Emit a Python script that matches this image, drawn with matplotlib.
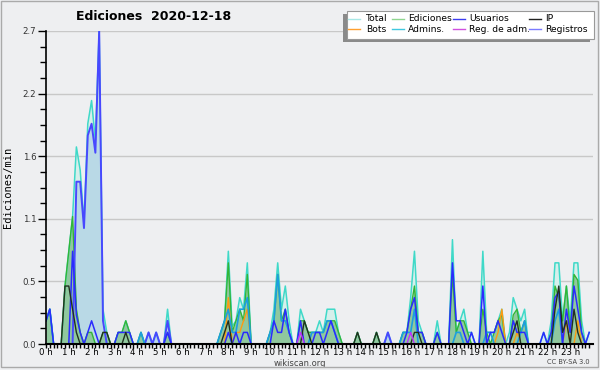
import matplotlib
matplotlib.use("Agg")
import matplotlib.pyplot as plt
import numpy as np
from matplotlib.lines import Line2D
from matplotlib.patches import Rectangle

# Edits per minute, 10-minute bins (6 values per hour, one row per hour)
total = [
    0.2, 0.3, 0, 0, 0, 0.5,
    0.8, 1.1, 1.7, 1.5, 1.05, 1.9,
    2.1, 1.75, 2.7, 0.3, 0.1, 0,
    0, 0.1, 0.1, 0.2, 0.1, 0,
    0, 0.1, 0, 0.1, 0, 0.1,
    0, 0, 0.3, 0, 0, 0,
    0, 0, 0, 0, 0, 0,
    0, 0, 0, 0, 0.1, 0.2,
    0.8, 0.15, 0.2, 0.4, 0.3, 0.7,
    0, 0, 0, 0, 0, 0.1,
    0.3, 0.7, 0.3, 0.5, 0.2, 0,
    0, 0.3, 0.2, 0.1, 0.1, 0.1,
    0.2, 0.1, 0.3, 0.3, 0.3, 0.1,
    0, 0, 0, 0, 0.1, 0,
    0, 0, 0, 0.1, 0, 0,
    0.1, 0, 0, 0, 0.1, 0.1,
    0.4, 0.8, 0.2, 0.1, 0, 0,
    0, 0.2, 0, 0, 0, 0.9,
    0.1, 0.2, 0.3, 0.1, 0.1, 0,
    0, 0.8, 0.1, 0.1, 0.1, 0.2,
    0.3, 0, 0.1, 0.4, 0.3, 0.2,
    0.3, 0, 0, 0, 0, 0.1,
    0, 0.2, 0.7, 0.7, 0.2, 0.5,
    0.2, 0.7, 0.7, 0.2, 0, 0.1,
]
ediciones = [
    0.2, 0.3, 0, 0, 0, 0.5,
    0.8, 1.1, 0.3, 0.1, 0, 0.1,
    0.1, 0, 0, 0.1, 0.1, 0,
    0, 0.1, 0.1, 0.2, 0.1, 0,
    0, 0.1, 0, 0, 0, 0,
    0, 0, 0.1, 0, 0, 0,
    0, 0, 0, 0, 0, 0,
    0, 0, 0, 0, 0.1, 0.2,
    0.7, 0.1, 0.2, 0.3, 0.2, 0.6,
    0, 0, 0, 0, 0, 0.1,
    0.2, 0.6, 0.2, 0.3, 0.1, 0,
    0, 0.2, 0.2, 0.1, 0.1, 0.1,
    0.1, 0.1, 0.2, 0.2, 0.2, 0.1,
    0, 0, 0, 0, 0.1, 0,
    0, 0, 0, 0.1, 0, 0,
    0, 0, 0, 0, 0.1, 0.1,
    0.3, 0.5, 0.1, 0.1, 0, 0,
    0, 0.1, 0, 0, 0, 0.6,
    0.1, 0.2, 0.2, 0.1, 0, 0,
    0, 0.3, 0.1, 0, 0.1, 0.2,
    0.25, 0, 0, 0.25, 0.3, 0.1,
    0.2, 0, 0, 0, 0, 0,
    0, 0.1, 0.5, 0.4, 0.2, 0.5,
    0.1, 0.6, 0.55, 0.1, 0, 0,
]
usuarios = [
    0.2, 0.3, 0, 0, 0, 0,
    0, 0.8, 0.25, 0.1, 0, 0.1,
    0.2, 0.1, 0, 0, 0, 0,
    0, 0.1, 0.1, 0.1, 0.1, 0,
    0, 0, 0, 0, 0, 0,
    0, 0, 0.1, 0, 0, 0,
    0, 0, 0, 0, 0, 0,
    0, 0, 0, 0, 0, 0,
    0.1, 0, 0.1, 0, 0.1, 0.1,
    0, 0, 0, 0, 0, 0,
    0.2, 0.1, 0.1, 0.3, 0.1, 0,
    0, 0.2, 0, 0, 0, 0.1,
    0.1, 0, 0.1, 0.2, 0.1, 0,
    0, 0, 0, 0, 0, 0,
    0, 0, 0, 0, 0, 0,
    0, 0, 0, 0, 0, 0.1,
    0.3, 0.4, 0.1, 0.1, 0, 0,
    0, 0.1, 0, 0, 0, 0.7,
    0.2, 0.2, 0.1, 0, 0.1, 0,
    0, 0.5, 0, 0.1, 0.1, 0.2,
    0.1, 0, 0, 0.2, 0.1, 0.1,
    0.1, 0, 0, 0, 0, 0.1,
    0, 0.1, 0.4, 0.45, 0, 0.3,
    0.1, 0.5, 0.3, 0.1, 0, 0.1,
]
ip = [
    0, 0, 0, 0, 0, 0.5,
    0.5, 0.3, 0.1, 0, 0, 0,
    0, 0, 0, 0.1, 0.1, 0,
    0, 0, 0, 0.1, 0, 0,
    0, 0, 0, 0, 0, 0,
    0, 0, 0, 0, 0, 0,
    0, 0, 0, 0, 0, 0,
    0, 0, 0, 0, 0, 0.1,
    0.2, 0, 0, 0, 0, 0,
    0, 0, 0, 0, 0, 0,
    0, 0, 0, 0, 0, 0,
    0, 0, 0.2, 0.1, 0, 0,
    0, 0, 0, 0, 0, 0,
    0, 0, 0, 0, 0.1, 0,
    0, 0, 0, 0.1, 0, 0,
    0, 0, 0, 0, 0, 0,
    0, 0.1, 0.1, 0, 0, 0,
    0, 0, 0, 0, 0, 0,
    0, 0, 0, 0, 0, 0,
    0, 0, 0, 0, 0, 0,
    0, 0, 0, 0.1, 0.2, 0,
    0, 0, 0, 0, 0, 0,
    0, 0, 0.3, 0.5, 0.1, 0.2,
    0, 0.3, 0.1, 0, 0, 0,
]
bots = [0] * 144
bots[48:54] = [0.4, 0, 0.1, 0.1, 0.2, 0.3]
bots[119] = 0.1
bots[120] = 0.3
bots[124] = 0.1
bots[137] = 0.2
bots[140] = 0.2
admins = [
    0.2, 0.3, 0, 0, 0, 0,
    0, 0, 0, 0, 0, 0,
    0, 0, 0, 0, 0, 0,
    0, 0, 0, 0, 0, 0,
    0, 0.1, 0, 0, 0, 0,
    0, 0, 0, 0, 0, 0,
    0, 0, 0, 0, 0, 0,
    0, 0, 0, 0, 0.1, 0.2,
    0.3, 0.1, 0.1, 0.3, 0.3, 0.4,
    0, 0, 0, 0, 0, 0.1,
    0.2, 0.6, 0.2, 0.2, 0.1, 0,
    0, 0, 0, 0, 0.1, 0.1,
    0.1, 0.1, 0.2, 0.2, 0.1, 0,
    0, 0, 0, 0, 0, 0,
    0, 0, 0, 0, 0, 0,
    0, 0, 0, 0, 0.1, 0.1,
    0.1, 0.3, 0, 0, 0, 0,
    0, 0, 0, 0, 0, 0,
    0.1, 0.1, 0, 0, 0, 0,
    0, 0, 0.1, 0.1, 0, 0,
    0, 0, 0, 0, 0, 0.1,
    0.2, 0, 0, 0, 0, 0,
    0, 0, 0.2, 0.3, 0, 0,
    0, 0, 0, 0, 0, 0,
]
reg_adm = [0] * 144
reg_adm[67] = 0.1
reg_adm[96] = 0.1
registros = [0] * 144
registros[6:16] = [0, 0, 1.4, 1.4, 1.0, 1.8, 1.9, 1.65, 2.7, 0.2]
registros[27] = 0.1
registros[29] = 0.1
registros[32] = 0.2
registros[90] = 0.1

hours = np.arange(144) / 6
hour_labels = [f"{h} h" for h in range(24)]
y_ticks = [0, 0.54, 1.08, 1.62, 2.16, 2.7]
y_labels = ["0.0", "0.5", "1.1", "1.6", "2.2", "2.7"]

bg = "#eeeff1"
W, H = 600, 370

fig = plt.figure(figsize=(6, 3.7), dpi=100, facecolor=bg)
ax = fig.add_axes([46 / W, (H - 344) / H, (593 - 46) / W, (344 - 31) / H])
ax.set_facecolor(bg)

# filled areas
ax.fill_between(hours, total, color="#d6efeb", lw=0)
ax.fill_between(hours, registros, color="#b9d9e6", lw=0)
ax.fill_between(hours, ediciones, color="#8cc69a", lw=0, alpha=0.95)

# lines
ax.plot(hours, total, color="#3fd9c8", lw=1.1)
ax.plot(hours, ediciones, color="#33b536", lw=1.0)
ax.plot(hours, registros, color="#4848ff", lw=1.4)
ax.plot(hours, bots, color="#ff9a10", lw=1.0)
ax.plot(hours, admins, color="#1c9ee0", lw=1.2)
ax.plot(hours, usuarios, color="#2a2aff", lw=1.1)
ax.plot(hours, ip, color="#203020", lw=1.0)
ax.plot(hours, reg_adm, color="#c030ff", lw=1.0)

ax.set_xlim(0, 24)
ax.set_ylim(0, 2.7)
ax.set_xticks(range(24))
ax.set_xticklabels(hour_labels, fontsize=6.2)
ax.set_xticks(np.arange(0, 24, 1 / 6), minor=True)
ax.set_yticks(y_ticks)
ax.set_yticklabels(y_labels, fontsize=6.2, color="#333333")
ax.set_yticks(np.arange(0, 2.7, 0.135), minor=True)
ax.tick_params(axis="x", which="both", length=3, width=1, pad=0)
ax.tick_params(axis="y", which="major", length=6, width=1, pad=1)
ax.tick_params(axis="y", which="minor", length=4, width=1)
ax.yaxis.grid(True, color="#c8c8c8", lw=1)
ax.set_axisbelow(True)
for s in ["top", "right"]:
    ax.spines[s].set_visible(False)
ax.spines["left"].set_linewidth(1.2)
ax.spines["bottom"].set_linewidth(1.5)

# texts
fig.text(154 / W, 1 - 16 / H, "Ediciones  2020-12-18", ha="center", va="center",
         fontsize=9, fontweight="bold")
fig.text(8 / W, 1 - 187 / H, "Ediciones/min", rotation=90, ha="center", va="center",
         fontsize=7.5, family="DejaVu Sans Mono")
fig.text(300 / W, 1 - 363 / H, "wikiscan.org", ha="center", va="center",
         fontsize=6, color="#444444")
fig.text(590 / W, 1 - 362.5 / H, "CC BY-SA 3.0", ha="right", va="center",
         fontsize=4.8, color="#444444")

# legend box with shadow
fig.patches.append(Rectangle((343 / W, 1 - 41.5 / H), 247 / W, 27 / H,
                             transform=fig.transFigure, facecolor="#8a8a8a",
                             edgecolor="none", zorder=5))
fig.patches.append(Rectangle((346.5 / W, 1 - 38.5 / H), 247 / W, 27 / H,
                             transform=fig.transFigure, facecolor="white",
                             edgecolor="#999999", lw=0.8, zorder=6))
legend_names = [["Total", "Ediciones", "Usuarios", "IP"],
                ["Bots", "Admins.", "Reg. de adm.", "Registros"]]
legend_colors = [["#a8e8e6", "#8fd68f", "#3c3cf0", "#222222"],
                 ["#ffa030", "#40c8e0", "#d050e0", "#7b7bff"]]
handle_x = [348, 392, 453, 529]
text_x = [366, 408, 469, 545]
row_y = [18.5, 29]
for r in range(2):
    for c in range(4):
        y = 1 - row_y[r] / H
        fig.lines.append(Line2D([handle_x[c] / W, (handle_x[c] + 12) / W], [y, y],
                                transform=fig.transFigure, color=legend_colors[r][c],
                                lw=1, zorder=7))
        fig.text(text_x[c] / W, y, legend_names[r][c], ha="left", va="center",
                 fontsize=6.6, zorder=8)

# outer border
fig.patches.append(Rectangle((1 / W, 3 / H), 597 / W, 366 / H, transform=fig.transFigure,
                             facecolor="none", edgecolor="#aaaaaa", lw=1, zorder=9))

fig.savefig("out.png", dpi=100, facecolor=bg)
